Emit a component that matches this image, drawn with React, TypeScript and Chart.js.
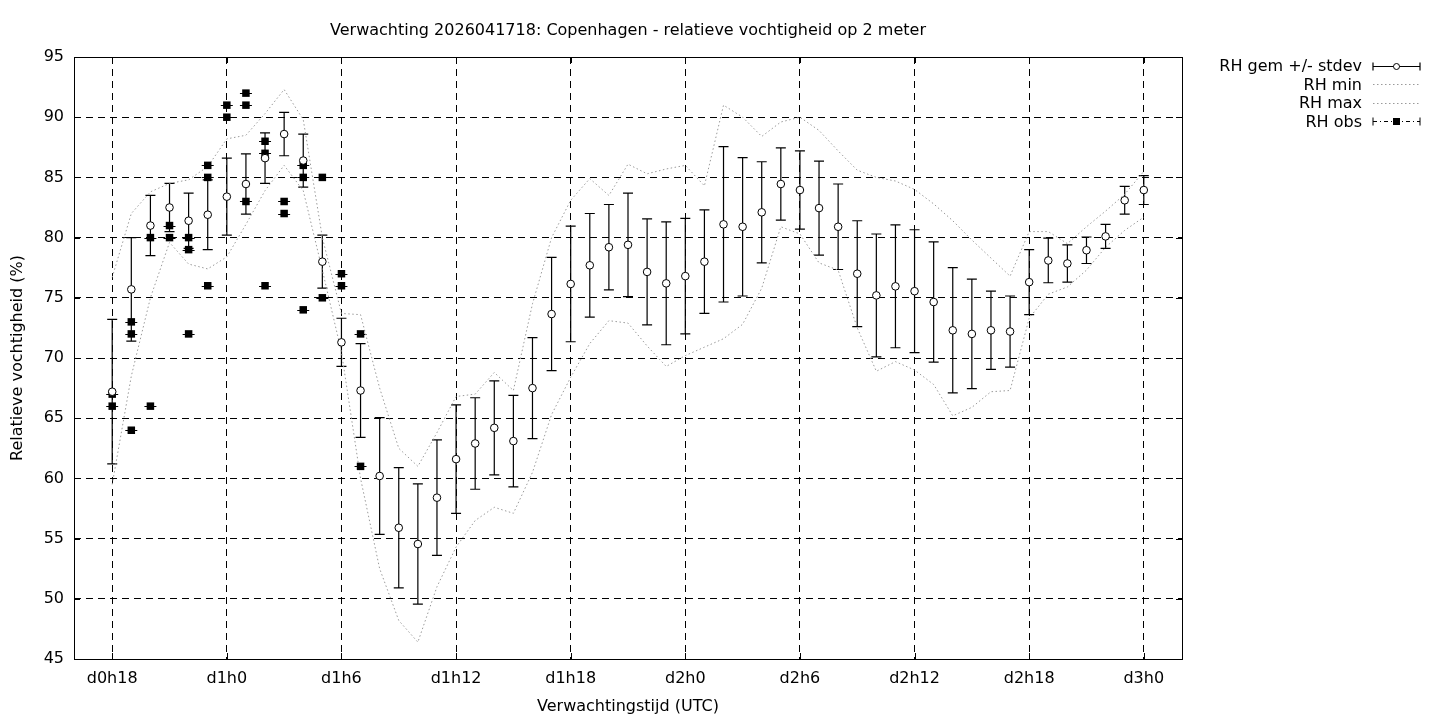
import React, { useEffect, useRef } from "react";
import { Chart, registerables } from "chart.js";

Chart.register(...registerables);

const TITLE = "Verwachting 2026041718: Copenhagen - relatieve vochtigheid op 2 meter";
const X_TITLE = "Verwachtingstijd (UTC)";
const Y_TITLE = "Relatieve vochtigheid (%)";

// forecast hours (hours after d0h0)
const hours = [
  18, 19, 20, 21, 22, 23, 24, 25, 26, 27, 28, 29, 30, 31, 32, 33, 34, 35, 36,
  37, 38, 39, 40, 41, 42, 43, 44, 45, 46, 47, 48, 49, 50, 51, 52, 53, 54, 55,
  56, 57, 58, 59, 60, 61, 62, 63, 64, 65, 66, 67, 68, 69, 70, 71, 72,
];

const rhMean = [
  67.2, 75.7, 81.0, 82.5, 81.4, 81.9, 83.4, 84.45, 86.6, 88.6, 86.4, 78.0, 71.3,
  67.3, 60.2, 55.9, 54.55, 58.4, 61.6, 62.9, 64.2, 63.1, 67.5, 73.65, 76.15,
  77.7, 79.2, 79.4, 77.15, 76.2, 76.8, 78.0, 81.1, 80.9, 82.1, 84.45, 83.95,
  82.45, 80.9, 77.0, 75.2, 75.95, 75.55, 74.65, 72.3, 72.0, 72.3, 72.2, 76.3,
  78.1, 77.85, 78.95, 80.1, 83.1, 83.95,
];

const rhStdev = [
  6.0, 4.3, 2.5, 2.0, 2.3, 2.9, 3.2, 2.5, 2.1, 1.8, 2.2, 2.2, 2.0, 3.9, 4.85,
  5.0, 5.0, 4.8, 4.5, 3.8, 3.9, 3.8, 4.2, 4.7, 4.8, 4.3, 3.55, 4.3, 4.4, 5.1,
  4.8, 4.3, 6.45, 5.75, 4.2, 3.0, 3.25, 3.9, 3.55, 4.4, 5.1, 5.1, 5.1, 5.0, 5.2,
  4.55, 3.25, 2.95, 2.7, 1.85, 1.55, 1.1, 1.0, 1.15, 1.2,
];

const rhMin = [
  59.5, 68.5, 75.0, 79.6, 77.8, 77.4, 78.4, 81.1, 83.9, 86.0, 83.9, 77.3, 70.5,
  60.0, 52.5, 48.2, 46.4, 51.0, 54.3, 56.5, 57.6, 57.1, 60.5, 65.3, 68.4, 71.2,
  73.1, 72.9, 71.0, 69.3, 70.2, 70.9, 71.6, 72.8, 75.8, 80.9, 80.3, 77.9, 77.3,
  72.5, 68.9, 69.7, 69.0, 67.8, 65.2, 65.9, 67.2, 67.3, 73.3, 75.3, 75.9, 77.3,
  79.2, 80.6, 81.7,
];

const rhMax = [
  76.7, 82.0, 83.8, 84.5, 84.8, 85.9, 88.2, 88.5, 90.3, 92.3, 89.8, 80.0, 73.7,
  73.6, 67.5, 62.5, 61.0, 63.8, 66.8, 67.0, 68.8, 67.3, 74.5, 80.0, 83.1, 84.9,
  83.5, 86.1, 85.3, 85.7, 86.0, 84.3, 91.0, 90.0, 88.4, 89.6, 90.0, 88.9, 87.2,
  85.6, 85.0, 84.7, 84.0, 82.8, 81.4, 79.8, 78.3, 76.8, 80.5, 80.5, 79.5, 80.9,
  82.2, 83.6, 85.5,
];

const obsHours = [
  18, 18, 19, 19, 19, 20, 20, 21, 21, 22, 22, 22, 23, 23, 23, 24, 24, 25, 25,
  25, 26, 26, 26, 27, 27, 28, 28, 28, 29, 29, 30, 30, 31, 31,
];
const obsValues = [
  67, 66, 73, 72, 64, 80, 66, 81, 80, 80, 79, 72, 86, 85, 76, 91, 90, 92, 91,
  83, 88, 87, 76, 83, 82, 86, 85, 74, 85, 75, 77, 76, 72, 61,
];

const xTickValues = [18, 24, 30, 36, 42, 48, 54, 60, 66, 72];
const legendLabels = ["RH gem +/- stdev", "RH min", "RH max", "RH obs"];

const FONT = "'DejaVu Sans', sans-serif";
const FONT_SIZE = 16;
const GRID_DASH = [7, 5];
const MINMAX_COLOR = "#9a9a9a";
const MINMAX_DASH = [1.5, 2.5];

const tickLabel = (v: number) => `d${Math.floor(v / 24)}h${v % 24}`;

const gnuplotPlugin = {
  id: "gnuplotLook",
  beforeDatasetsDraw(chart: any) {
    const ctx = chart.ctx;
    const xs = chart.scales.x;
    const ys = chart.scales.y;
    ctx.save();
    ctx.strokeStyle = "#000";
    ctx.lineWidth = 1.2;
    // error bars for the mean series
    hours.forEach((h, i) => {
      const px = xs.getPixelForValue(h);
      const top = ys.getPixelForValue(rhMean[i] + rhStdev[i]);
      const bot = ys.getPixelForValue(rhMean[i] - rhStdev[i]);
      ctx.beginPath();
      ctx.moveTo(px, top);
      ctx.lineTo(px, bot);
      ctx.moveTo(px - 5, top);
      ctx.lineTo(px + 5, top);
      ctx.moveTo(px - 5, bot);
      ctx.lineTo(px + 5, bot);
      ctx.stroke();
    });
    // small horizontal caps of the observations
    ctx.lineWidth = 1;
    obsHours.forEach((h, i) => {
      const px = xs.getPixelForValue(h);
      const py = Math.round(ys.getPixelForValue(obsValues[i])) + 0.5;
      ctx.beginPath();
      ctx.moveTo(px - 6, py);
      ctx.lineTo(px + 6, py);
      ctx.stroke();
    });
    ctx.restore();
  },
  afterDraw(chart: any) {
    const ctx = chart.ctx;
    const a = chart.chartArea;
    const xs = chart.scales.x;
    const ys = chart.scales.y;
    ctx.save();
    // border box
    ctx.strokeStyle = "#000";
    ctx.lineWidth = 1;
    ctx.strokeRect(Math.round(a.left) + 0.5, Math.round(a.top) + 0.5, Math.round(a.right - a.left), Math.round(a.bottom - a.top));
    // inward tick marks (mirrored)
    ctx.beginPath();
    xTickValues.forEach((v) => {
      const px = Math.round(xs.getPixelForValue(v)) + 0.5;
      ctx.moveTo(px, a.bottom);
      ctx.lineTo(px, a.bottom - 6);
      ctx.moveTo(px, a.top);
      ctx.lineTo(px, a.top + 6);
    });
    for (let v = 45; v <= 95; v += 5) {
      const py = Math.round(ys.getPixelForValue(v)) + 0.5;
      ctx.moveTo(a.left, py);
      ctx.lineTo(a.left + 6, py);
      ctx.moveTo(a.right, py);
      ctx.lineTo(a.right - 6, py);
    }
    ctx.stroke();

    // title
    ctx.fillStyle = "#000";
    ctx.font = `${FONT_SIZE}px ${FONT}`;
    ctx.textAlign = "center";
    ctx.textBaseline = "alphabetic";
    ctx.fillText(TITLE, (a.left + a.right) / 2, 35);

    // legend
    const textRight = 1362;
    const s0 = 1373;
    const s1 = 1420;
    const sm = (s0 + s1) / 2;
    const baselines = [71, 89.5, 108, 126.5];
    ctx.textAlign = "right";
    legendLabels.forEach((label, i) => {
      const base = baselines[i];
      ctx.fillStyle = "#000";
      ctx.fillText(label, textRight, base);
      const y = Math.round(base - 5.5) + 0.5;
      ctx.save();
      if (i === 0) {
        ctx.strokeStyle = "#000";
        ctx.lineWidth = 1.2;
        ctx.beginPath();
        ctx.moveTo(s0, y);
        ctx.lineTo(s1, y);
        ctx.moveTo(s0, y - 4);
        ctx.lineTo(s0, y + 4);
        ctx.moveTo(s1, y - 4);
        ctx.lineTo(s1, y + 4);
        ctx.stroke();
        ctx.beginPath();
        ctx.arc(sm, y, 3, 0, Math.PI * 2);
        ctx.fillStyle = "#fff";
        ctx.fill();
        ctx.lineWidth = 1;
        ctx.stroke();
      } else if (i === 1 || i === 2) {
        ctx.strokeStyle = MINMAX_COLOR;
        ctx.lineWidth = 1;
        ctx.setLineDash(MINMAX_DASH);
        ctx.beginPath();
        ctx.moveTo(s0, y);
        ctx.lineTo(s1, y);
        ctx.stroke();
      } else {
        ctx.strokeStyle = "#000";
        ctx.lineWidth = 1;
        ctx.beginPath();
        ctx.moveTo(s0, y - 4);
        ctx.lineTo(s0, y + 4);
        ctx.moveTo(s1, y - 4);
        ctx.lineTo(s1, y + 4);
        ctx.stroke();
        ctx.setLineDash([4, 3, 1, 3]);
        ctx.beginPath();
        ctx.moveTo(s0, y);
        ctx.lineTo(s1, y);
        ctx.stroke();
        ctx.setLineDash([]);
        ctx.fillStyle = "#000";
        ctx.fillRect(sm - 3.5, y - 3.5, 7, 7);
      }
      ctx.restore();
    });
    ctx.restore();
  },
};

export default function App() {
  const canvasRef = useRef<HTMLCanvasElement | null>(null);

  useEffect(() => {
    document.body.style.margin = "0";
    const canvas = canvasRef.current;
    if (!canvas) return;

    const meanData = hours.map((h, i) => ({ x: h, y: rhMean[i] }));
    const minData = hours.map((h, i) => ({ x: h, y: rhMin[i] }));
    const maxData = hours.map((h, i) => ({ x: h, y: rhMax[i] }));
    const obsData = obsHours.map((h, i) => ({ x: h, y: obsValues[i] }));

    const chart = new Chart(canvas, {
      type: "scatter",
      data: {
        datasets: [
          {
            label: legendLabels[0],
            data: meanData,
            showLine: false,
            pointStyle: "circle",
            pointRadius: 3.8,
            pointBackgroundColor: "#fff",
            pointBorderColor: "#000",
            pointBorderWidth: 1,
            order: 0,
          },
          {
            label: legendLabels[1],
            data: minData,
            showLine: true,
            borderColor: MINMAX_COLOR,
            borderWidth: 1,
            borderDash: MINMAX_DASH,
            pointRadius: 0,
            tension: 0,
            order: 3,
          },
          {
            label: legendLabels[2],
            data: maxData,
            showLine: true,
            borderColor: MINMAX_COLOR,
            borderWidth: 1,
            borderDash: MINMAX_DASH,
            pointRadius: 0,
            tension: 0,
            order: 2,
          },
          {
            label: legendLabels[3],
            data: obsData,
            showLine: false,
            pointStyle: "rect",
            pointRadius: 5.3,
            pointBackgroundColor: "#000",
            pointBorderColor: "#000",
            pointBorderWidth: 0,
            order: 1,
          },
        ],
      },
      options: {
        animation: false,
        responsive: false,
        maintainAspectRatio: false,
        layout: { padding: { left: 0, right: 258, top: 57, bottom: 0 } },
        plugins: {
          legend: { display: false },
          tooltip: { enabled: false },
          title: { display: false },
        },
        scales: {
          x: {
            type: "linear",
            min: 16,
            max: 74,
            afterBuildTicks: (s: any) => {
              s.ticks = xTickValues.map((v) => ({ value: v }));
            },
            afterFit: (s: any) => {
              s.height = 61;
            },
            ticks: {
              callback: (v: any) => tickLabel(Number(v)),
              color: "#000",
              font: { family: FONT, size: FONT_SIZE },
              padding: 10,
              maxRotation: 0,
              autoSkip: false,
            },
            grid: { color: "#000", lineWidth: 1, drawTicks: false },
            border: { display: false, dash: GRID_DASH },
            title: {
              display: true,
              text: X_TITLE,
              color: "#000",
              font: { family: FONT, size: FONT_SIZE },
              padding: { top: 0, bottom: 4 },
            },
          },
          y: {
            min: 45,
            max: 95,
            afterFit: (s: any) => {
              s.width = 74;
            },
            ticks: {
              stepSize: 5,
              color: "#000",
              font: { family: FONT, size: FONT_SIZE },
              padding: 10,
            },
            grid: { color: "#000", lineWidth: 1, drawTicks: false },
            border: { display: false, dash: GRID_DASH },
            title: {
              display: true,
              text: Y_TITLE,
              color: "#000",
              font: { family: FONT, size: FONT_SIZE },
              padding: { top: 8, bottom: 0 },
            },
          },
        },
      },
      plugins: [gnuplotPlugin],
    } as any);

    return () => chart.destroy();
  }, []);

  return (
    <div style={{ width: 1440, height: 720, background: "#fff" }}>
      <canvas ref={canvasRef} width={1440} height={720} style={{ display: "block" }} />
    </div>
  );
}
